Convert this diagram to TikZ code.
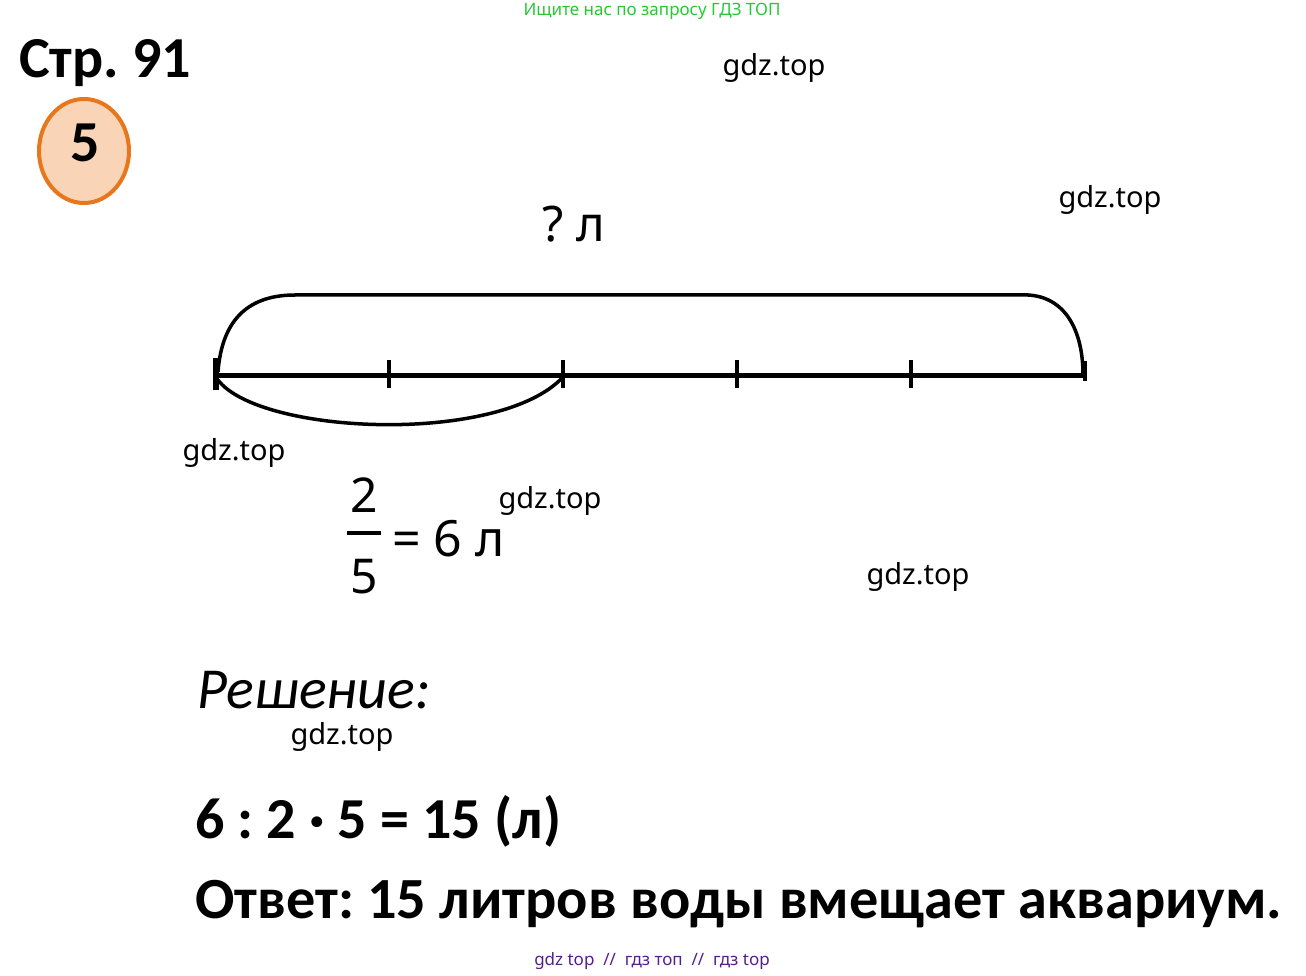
\documentclass[tikz,border=0pt]{standalone}
\usepackage{fontspec}
\setmainfont{Carlito}
\newfontfamily\notos{Noto Sans}
\frenchspacing
\definecolor{hdrgreen}{RGB}{40,200,50}
\definecolor{ftpurple}{RGB}{85,30,140}
\definecolor{circfill}{RGB}{250,212,182}
\definecolor{circline}{RGB}{232,118,28}
\begin{document}
\begin{tikzpicture}[x=1pt,y=-1pt,
  wm/.style={font=\notos\fontsize{29}{30}\selectfont, anchor=base, inner sep=0pt},
  bigtxt/.style={inner sep=0pt, anchor=base west},
  tick/.style={line width=4pt},
  brace/.style={line width=3.5pt}]
\useasboundingbox (0,0) rectangle (1306,976);
% header
\node[font=\notos\fontsize{17}{18}\selectfont, text=hdrgreen, inner sep=0pt] (hdr) at (652,11) {Ищите нас по запросу ГДЗ ТОП};
\node[bigtxt, font=\bfseries\fontsize{58}{60}\selectfont] (page) at (19,78) {Стр. 91};
\draw[circline, line width=4pt, fill=circfill] (84,151) ellipse [x radius=45, y radius=52];
\node[font=\bfseries\fontsize{58}{60}\selectfont, inner sep=0pt] (num) at (85,143) {5};
% watermarks
\node[wm] (w1) at (774,76) {gdz.top};
\node[wm] (w2) at (1110,208) {gdz.top};
\node[wm] (w3) at (234,460) {gdz.top};
\node[wm] (w4) at (550,508) {gdz.top};
\node[wm] (w5) at (918,584) {gdz.top};
\node[wm] (w6) at (342,744) {gdz.top};
% diagram
\node[font=\notos\fontsize{49}{50}\selectfont, inner sep=0pt] (q) at (574,224) {? л};
\coordinate (t0) at (216,375);
\coordinate (t1) at (389,375);
\coordinate (t2) at (563,375);
\coordinate (t3) at (737,375);
\coordinate (t4) at (911,375);
\coordinate (t5) at (1085,375);
\draw[line width=5pt] (t0) -- (t5);
\draw[line width=6pt] ([yshift=-15]t0) -- ([yshift=17]t0);
\foreach \t in {t1,t2,t3,t4} \draw[tick] ([yshift=-13]\t) -- ([yshift=15]\t);
\draw[line width=3.5pt] ([yshift=-6]t5) -- ([yshift=14]t5);
\draw[brace] (218,372) .. controls (222,318) and (250,295) .. (295,295) -- (1028,295) .. controls (1065,297) and (1083,330) .. (1083,375);
\draw[brace] (218,380) .. controls (260,435) and (500,445) .. (563,377);
% fraction
\node[font=\notos\fontsize{48}{50}\selectfont, inner sep=0pt] (n2) at (364,495) {2};
\node[font=\notos\fontsize{48}{50}\selectfont, inner sep=0pt] (n5) at (364,577) {5};
\draw[line width=4pt] (347,533) -- (381,533);
\node[bigtxt, font=\notos\fontsize{50}{52}\selectfont] (eq) at (392,556) {= 6 л};
% solution
\node[bigtxt, font=\itshape\fontsize{58}{60}\selectfont] (sol) at (197,708) {Решение:};
\node[bigtxt, font=\bfseries\fontsize{58}{60}\selectfont] (calc) at (195,838) {6 : 2 · 5 = 15 (л)};
\node[bigtxt, font=\bfseries\fontsize{58.3}{60}\selectfont] (ans) at (195,918) {Ответ: 15 литров воды вмещает аквариум.};
\node[font=\notos\fontsize{17}{18}\selectfont, text=ftpurple, inner sep=0pt] (ftr) at (652,961) {gdz top \ // \ гдз топ \ // \ гдз top};
\end{tikzpicture}
\end{document}
